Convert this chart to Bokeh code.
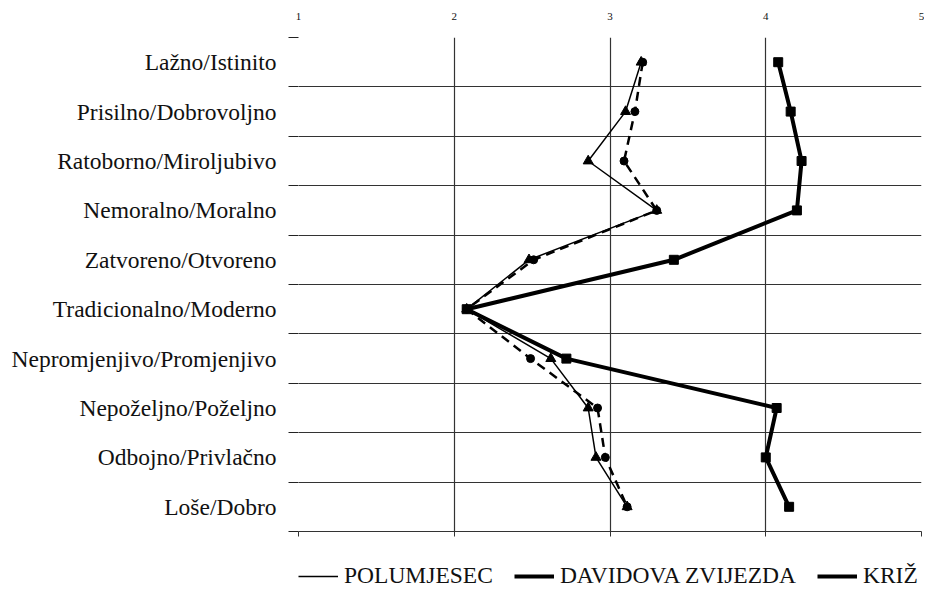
from bokeh.plotting import figure
from bokeh.models import (Range1d, LinearAxis, FixedTicker, Legend, LegendItem,
                          ColumnDataSource)
from bokeh.layouts import column
from bokeh.embed import file_html
from bokeh.resources import INLINE

categories = ["Lažno/Istinito", "Prisilno/Dobrovoljno", "Ratoborno/Miroljubivo",
              "Nemoralno/Moralno", "Zatvoreno/Otvoreno", "Tradicionalno/Moderno",
              "Nepromjenjivo/Promjenjivo", "Nepoželjno/Poželjno", "Odbojno/Privlačno",
              "Loše/Dobro"]
polumjesec = [3.20, 3.10, 2.86, 3.30, 2.48, 2.08, 2.62, 2.86, 2.91, 3.11]
davidova = [3.21, 3.16, 3.09, 3.30, 2.51, 2.08, 2.49, 2.92, 2.97, 3.11]
kriz = [4.08, 4.16, 4.23, 4.20, 3.41, 2.08, 2.72, 4.07, 4.00, 4.15]
x_ticks = [1, 2, 3, 4, 5]
series_names = ["POLUMJESEC", "DAVIDOVA ZVIJEZDA", "KRIŽ"]

FONT = "Liberation Serif"
n = len(categories)
centers = [i + 0.5 for i in range(n)]
bounds = [float(i) for i in range(n + 1)]

p = figure(width=924, height=541, output_backend="svg", toolbar_location=None,
           x_range=Range1d(1, 5), y_range=Range1d(n, 0),
           x_axis_location=None, y_axis_location="left",
           min_border_left=298, min_border_right=3, min_border_top=37,
           min_border_bottom=10)
p.outline_line_color = None
p.background_fill_color = "white"

# left axis: labels at centers, ticks at boundaries (minor)
ya = p.yaxis[0]
ya.ticker = FixedTicker(ticks=centers, minor_ticks=bounds)
ya.major_label_overrides = {c: lab for c, lab in zip(centers, categories)}
ya.major_tick_out = 0
ya.major_tick_in = 0
ya.minor_tick_out = 10
ya.minor_tick_in = 0
ya.minor_tick_line_color = "#222222"
ya.axis_line_color = None
ya.major_label_standoff = 12
ya.major_label_text_font = FONT
ya.major_label_text_font_size = "23.5px"
ya.major_label_text_color = "#111111"

p.ygrid.grid_line_color = None
p.ygrid.minor_grid_line_color = "#333333"
p.ygrid.minor_grid_line_width = 1.2

# top axis
top = LinearAxis(ticker=FixedTicker(ticks=x_ticks))
top.major_tick_out = 0
top.major_tick_in = 0
top.minor_tick_out = 0
top.minor_tick_in = 0
top.axis_line_color = None
top.major_label_standoff = 18
top.major_label_text_font = FONT
top.major_label_text_font_size = "11px"
top.major_label_text_color = "#111111"
p.add_layout(top, "above")

# bottom axis: ticks only
bot = LinearAxis(ticker=FixedTicker(ticks=x_ticks))
bot.major_tick_out = 5
bot.major_tick_in = 0
bot.minor_tick_out = 0
bot.minor_tick_in = 0
bot.axis_line_color = "#333333"
bot.major_tick_line_color = "#333333"
bot.major_label_overrides = {t: "" for t in x_ticks}
bot.major_label_text_font_size = "1px"
bot.major_label_standoff = 0
p.add_layout(bot, "below")

p.xgrid.ticker = FixedTicker(ticks=x_ticks)
p.xgrid.grid_line_color = "#333333"
p.xgrid.grid_line_width = 1.2

src = ColumnDataSource(dict(y=centers, pol=polumjesec, dav=davidova, kri=kriz))

p.line("kri", "y", source=src, line_color="black", line_width=4)
p.scatter("kri", "y", source=src, marker="square", size=9, color="black")
p.line("dav", "y", source=src, line_color="black", line_width=2.5, line_dash="9 6")
p.scatter("dav", "y", source=src, marker="circle", size=8, color="black")
p.line("pol", "y", source=src, line_color="black", line_width=1.5)
p.scatter("pol", "y", source=src, marker="triangle", size=10, color="black")

# legend in its own strip below the chart (frame aligned with the chart's frame)
p2 = figure(width=924, height=59, output_backend="svg", toolbar_location=None,
            x_range=Range1d(0, 1), y_range=Range1d(0, 1),
            min_border=0, min_border_left=0, min_border_right=0,
            min_border_top=0, min_border_bottom=0)
p2.axis.visible = False
p2.grid.visible = False
p2.outline_line_color = None

dummy = ColumnDataSource(dict(x=[-10, -9], y=[-5, -5]))
r1 = p2.line("x", "y", source=dummy, line_color="black", line_width=1.5)
r2 = p2.line("x", "y", source=dummy, line_color="black", line_width=4)
r3 = p2.line("x", "y", source=dummy, line_color="black", line_width=4)
legend = Legend(items=[LegendItem(label=series_names[0], renderers=[r1]),
                       LegendItem(label=series_names[1], renderers=[r2]),
                       LegendItem(label=series_names[2], renderers=[r3])],
                orientation="horizontal", location=(0, 11),
                label_text_font=FONT, label_text_font_size="23.5px",
                label_text_color="#111111",
                glyph_width=40, label_standoff=6, spacing=21,
                border_line_color=None, background_fill_alpha=0,
                padding=0, margin=0)
p2.add_layout(legend, "center")

layout = column(p, p2, spacing=0)
open("out.html", "w").write(file_html(layout, INLINE))
